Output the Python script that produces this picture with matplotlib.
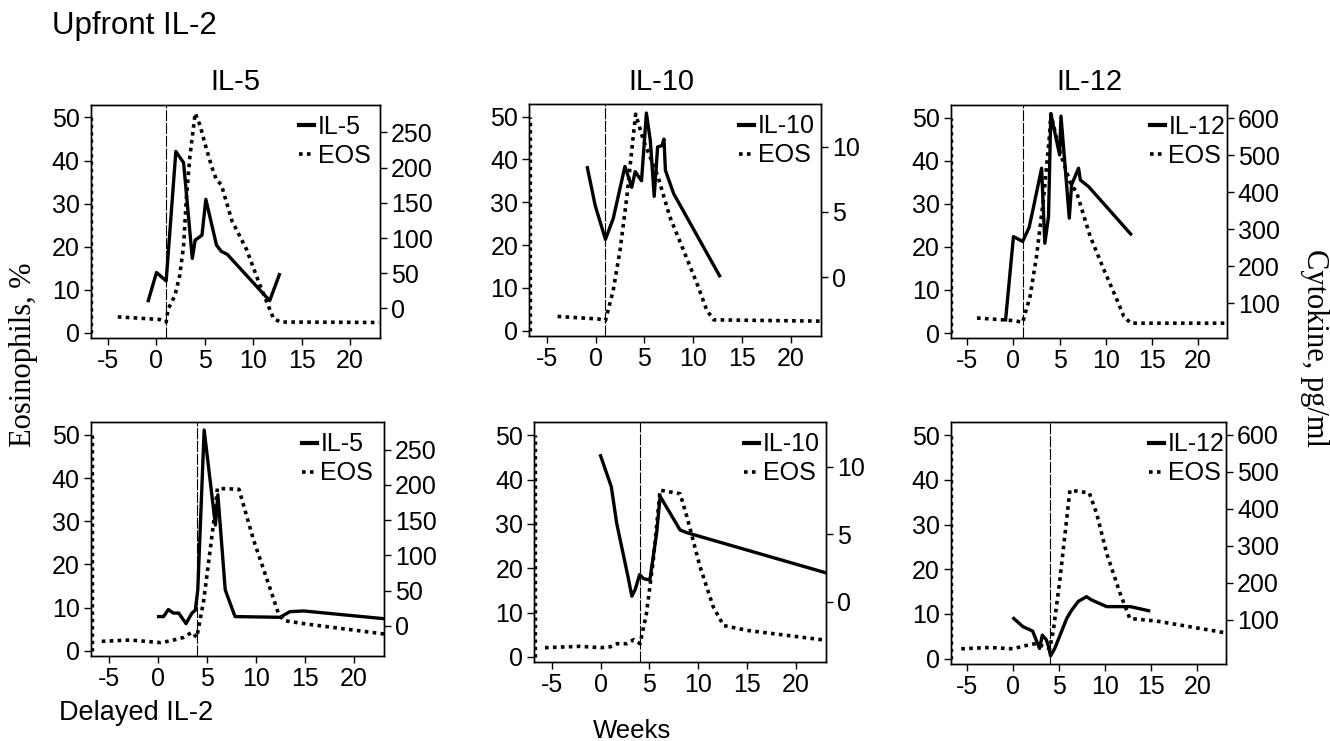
import matplotlib.pyplot as plt
from matplotlib.lines import Line2D

plt.rcParams['font.family'] = ['Liberation Sans', 'DejaVu Sans']
plt.rcParams['axes.unicode_minus'] = False

week_ticks = [-5, 0, 5, 10, 15, 20]
pct_ticks = [0, 10, 20, 30, 40, 50]
il5_ticks = [0, 50, 100, 150, 200, 250]
il10_ticks = [0, 5, 10]
il12_ticks = [100, 200, 300, 400, 500, 600]

# start of IL-2 (weeks)
up_start = 1
delayed_start = 4

# dotted trace along the left edge (present in every panel)
edge_x = [-6.72, -6.72]
edge_y = [0, 50]

# ---- Upfront IL-2 ----
up_il5_eos_x = [-4.0, 0.3, 1.0, 1.2, 1.9, 2.4, 2.8, 3.1, 3.45, 4.0, 4.5, 5.0, 5.7, 6.2, 6.7, 7.8, 9.3, 10.7, 12.1, 12.8, 23.0]
up_il5_eos_y = [3.7, 3.1, 2.5, 5.5, 8.6, 13.3, 20.2, 31.7, 40.9, 51.0, 48.2, 44.0, 38.6, 35.5, 34.4, 26.0, 19.4, 11.0, 3.3, 2.5, 2.4]
up_il5_x = [-0.85, 0.0, 1.0, 2.0, 2.8, 3.7, 4.0, 4.7, 5.1, 6.2, 6.7, 7.3, 11.7, 12.7]
up_il5_y = [11, 51, 39, 223, 207, 71, 97, 104, 155, 90, 81, 77, 11, 48]

up_il10_eos_x = [-3.9, 0.3, 1.0, 1.8, 2.5, 3.2, 3.7, 4.1, 4.9, 6.4, 7.6, 9.0, 10.4, 11.4, 12.1, 23.0]
up_il10_eos_y = [3.3, 2.7, 2.3, 9.4, 18.8, 31.3, 42.2, 50.6, 44.5, 35.9, 26.6, 18.8, 10.9, 4.7, 2.5, 2.2]
up_il10_x = [-0.85, -0.05, 1.0, 1.8, 3.0, 3.7, 4.05, 4.7, 5.2, 5.6, 6.0, 6.35, 6.8, 7.0, 7.15, 8.0, 12.7]
up_il10_y = [8.4, 5.5, 2.9, 4.5, 8.5, 6.9, 8.1, 7.4, 12.6, 10.5, 6.2, 10.0, 10.1, 10.6, 8.2, 6.4, 0.1]

up_il12_eos_x = [-3.95, 0.0, 1.0, 1.8, 2.5, 3.25, 3.9, 4.05, 5.05, 6.15, 6.85, 8.3, 9.8, 11.2, 11.95, 12.7, 23.0]
up_il12_eos_y = [3.5, 2.9, 2.5, 8.5, 17.8, 31.0, 45.7, 50.8, 41.9, 34.9, 32.6, 22.5, 14.7, 7.8, 3.9, 2.3, 2.3]
up_il12_x = [-0.85, 0.0, 1.0, 1.7, 2.15, 3.05, 3.4, 3.8, 4.05, 5.0, 5.15, 5.6, 6.05, 6.3, 7.05, 7.25, 8.15, 12.7]
up_il12_y = [55, 280, 267, 305, 357, 465, 262, 334, 613, 501, 606, 469, 330, 420, 465, 433, 415, 287]

# ---- Delayed IL-2 ----
del_il5_eos_x = [-5.7, -2.8, 0.3, 1.3, 2.65, 3.5, 4.0, 4.7, 5.4, 5.9, 6.1, 8.3, 9.8, 11.2, 12.35, 12.9, 15.2, 23.1]
del_il5_eos_y = [2.2, 2.5, 1.9, 2.3, 3.1, 4.3, 3.1, 11.6, 24.0, 33.0, 37.6, 37.4, 25.6, 16.3, 8.5, 7.0, 6.2, 3.9]
del_il5_x = [0.1, 0.6, 1.1, 1.6, 2.15, 2.9, 3.5, 3.85, 4.1, 4.75, 5.9, 6.15, 6.9, 7.9, 12.5, 13.5, 14.9, 23.1]
del_il5_y = [13, 13, 23, 18, 18, 3, 18, 22, 51, 278, 143, 186, 51, 13, 12, 20, 21, 10]

del_il10_eos_x = [-5.7, -2.1, 0.0, 1.0, 1.7, 2.7, 3.4, 4.05, 4.7, 5.4, 6.1, 8.15, 8.85, 10.2, 11.55, 12.6, 15.0, 23.0]
del_il10_eos_y = [2.1, 2.4, 2.1, 2.3, 3.0, 3.0, 3.9, 3.0, 9.8, 21.8, 37.6, 36.8, 31.6, 20.3, 11.3, 7.1, 6.0, 3.8]
del_il10_x = [0.0, 1.1, 1.65, 2.85, 3.2, 3.55, 4.0, 4.4, 5.05, 5.75, 6.1, 8.15, 8.85, 23.0]
del_il10_y = [10.8, 8.5, 5.8, 1.7, 0.4, 0.9, 2.0, 1.7, 1.6, 5.1, 7.8, 5.3, 5.1, 2.15]

del_il12_eos_x = [-5.65, -2.6, 0.0, 1.05, 2.5, 3.95, 4.35, 5.05, 6.15, 8.25, 9.05, 10.15, 11.6, 12.65, 15.6, 23.0]
del_il12_eos_y = [2.2, 2.5, 2.2, 2.8, 3.4, 2.2, 6.3, 17.5, 37.7, 37.1, 32.5, 23.5, 14.6, 9.0, 8.4, 5.8]
del_il12_x = [0.05, 1.05, 2.1, 2.85, 3.15, 3.6, 3.85, 4.05, 4.5, 5.8, 6.3, 7.05, 7.95, 8.5, 10.15, 12.7, 14.7]
del_il12_y = [104, 82, 70, 23, 59, 46, 26, 3, 23, 104, 125, 150, 163, 154, 136, 136, 125]

# axes boxes [left, bottom, width, height] in figure fraction, right-axis limits
panels = [
    ([0.0682, 0.5439, 0.2175, 0.3144], 'IL-5', up_start, up_il5_eos_x, up_il5_eos_y, up_il5_x, up_il5_y, il5_ticks, (-42, 289)),
    ([0.3980, 0.5470, 0.2193, 0.3122], 'IL-10', up_start, up_il10_eos_x, up_il10_eos_y, up_il10_x, up_il10_y, il10_ticks, (-4.5, 13.27)),
    ([0.7148, 0.5435, 0.2075, 0.3148], 'IL-12', up_start, up_il12_eos_x, up_il12_eos_y, up_il12_x, up_il12_y, il12_ticks, (5, 636)),
    ([0.0684, 0.1147, 0.2203, 0.3154], 'IL-5', delayed_start, del_il5_eos_x, del_il5_eos_y, del_il5_x, del_il5_y, il5_ticks, (-43, 289)),
    ([0.4017, 0.1062, 0.2193, 0.3239], 'IL-10', delayed_start, del_il10_eos_x, del_il10_eos_y, del_il10_x, del_il10_y, il10_ticks, (-4.5, 13.28)),
    ([0.7148, 0.1039, 0.2070, 0.3262], 'IL-12', delayed_start, del_il12_eos_x, del_il12_eos_y, del_il12_x, del_il12_y, il12_ticks, (-19, 634)),
]

fig = plt.figure(figsize=(13.3, 7.41), dpi=100)

dot = (0, (1, 1.2))
for rect, name, start, ex, ey, cx, cy, rticks, rlim in panels:
    ax = fig.add_axes(rect)
    ax.plot(edge_x, edge_y, color='black', lw=2.4, linestyle=dot)
    ax.plot(ex, ey, color='black', lw=2.6, linestyle=dot)
    ax.axvline(start, color='black', lw=0.8, linestyle=(0, (10, 1.5)))
    ax.set_xlim(-6.8, 23.1)
    ax.set_ylim(-1.2, 52.9)
    ax.set_xticks(week_ticks)
    ax.set_yticks(pct_ticks)
    ax.tick_params(direction='out', length=5, width=1, labelsize=18, pad=3)

    ax2 = ax.twinx()
    ax2.plot(cx, cy, color='black', lw=2.4)
    ax2.set_ylim(*rlim)
    ax2.set_yticks(rticks)
    ax2.tick_params(direction='out', length=5, width=1, labelsize=18, pad=3)
    for a in (ax, ax2):
        for s in a.spines.values():
            s.set_linewidth(1.0)

    handles = [Line2D([], [], color='black', lw=3.0),
               Line2D([], [], color='black', lw=2.6, linestyle=dot)]
    ax2.legend(handles, [name, 'EOS'], loc='upper left', bbox_to_anchor=(0.685, 1.0),
               frameon=False, fontsize=18, handlelength=0.6, handletextpad=0.15,
               labelspacing=0.2, borderpad=0.2, borderaxespad=0.2)

for xc, name in [(0.177, 'IL-5'), (0.497, 'IL-10'), (0.819, 'IL-12')]:
    fig.text(xc, 0.889, name, ha='center', va='center', fontsize=21)

fig.text(0.039, 0.965, 'Upfront IL-2', ha='left', va='center', fontsize=22.5)
fig.text(0.044, 0.038, 'Delayed IL-2', ha='left', va='center', fontsize=19.5)
fig.text(0.475, 0.014, 'Weeks', ha='center', va='center', fontsize=18.5)
fig.text(0.018, 0.521, 'Eosinophils, %', rotation=90, ha='center', va='center',
         fontsize=22, family=['Liberation Serif', 'DejaVu Serif'])
fig.text(0.988, 0.530, 'Cytokine, pg/ml', rotation=270, ha='center', va='center',
         fontsize=22, family=['Liberation Serif', 'DejaVu Serif'])

fig.savefig('out.png', dpi=100)
